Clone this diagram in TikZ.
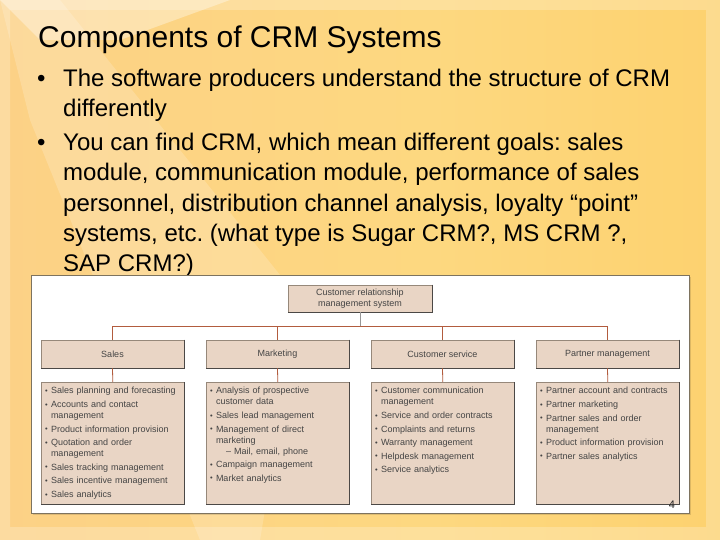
\documentclass[tikz,border=0pt]{standalone}
\usepackage{fontspec}
\setmainfont{Liberation Sans}
\frenchspacing
\usetikzlibrary{fadings}
\definecolor{boxfill}{RGB}{233,213,197}
\definecolor{boxedge}{RGB}{150,136,122}
\definecolor{boxdark}{RGB}{75,72,70}
\definecolor{linkred}{RGB}{178,92,62}
\definecolor{linkgray}{RGB}{150,150,150}
\definecolor{txtgray}{RGB}{68,68,68}
\definecolor{framec}{RGB}{125,115,95}
\definecolor{bgA}{RGB}{246,170,140}
\definecolor{bgB}{RGB}{250,192,130}
\definecolor{bgC}{RGB}{252,208,135}
\definecolor{bgD}{RGB}{253,216,128}
\definecolor{bgE}{RGB}{252,204,96}
\definecolor{bgF}{RGB}{255,226,122}
\pgfdeclarehorizontalshading{bgshade}{100bp}{color(0bp)=(bgA); color(5bp)=(bgB); color(20bp)=(bgC); color(55bp)=(bgD); color(93bp)=(bgE); color(96bp)=(bgF); color(100bp)=(bgF)}
\newcommand{\crmbul}{\makebox[5.8pt][l]{\raisebox{0.4pt}{\fontsize{7.5}{7.5}\selectfont •}}}
\newcommand{\crmitem}[1]{\par\vspace{2.6pt}\hangindent=5.8pt\hangafter=1\noindent\crmbul#1}
\newcommand{\crmfirst}[1]{\par\hangindent=5.8pt\hangafter=1\noindent\crmbul#1}
\newcommand{\crmsub}[1]{\par\noindent\hspace*{16pt}#1}
\tikzset{
  hdr/.style={rectangle, fill=boxfill, draw=boxedge, line width=0.6pt, minimum width=143pt, minimum height=28pt, inner sep=0pt, font=\fontsize{9}{11}\selectfont, text=txtgray, align=center},
  det/.style={rectangle, fill=boxfill, draw=boxedge, line width=0.6pt, anchor=north west, minimum width=143pt, minimum height=122pt, inner sep=0pt},
  dettext/.style={anchor=north west, inner sep=0pt, text width=137pt, align=left, font=\fontsize{9}{11}\selectfont, text=txtgray},
  link/.style={draw=linkred, line width=0.8pt},
  linkg/.style={draw=linkgray, line width=0.8pt},
  bigtxt/.style={anchor=base west, inner sep=0pt, font=\fontsize{24}{28}\selectfont, text=black},
  shadowedge/.style={draw=boxdark, line width=0.7pt},
}
\begin{document}
\begin{tikzpicture}[x=1pt,y=-1pt]
\useasboundingbox (0,0) rectangle (720,540);
% background
\shade[shading=bgshade] (0,0) rectangle (720,540);
\fill[white,opacity=0.18] (0,0) -- (60,0) -- (300,300) -- (260,540) -- (200,540) -- (30,120) -- cycle;
\fill[white,opacity=0.35] (0,0) -- (230,0) -- (120,40) -- (40,40) -- cycle;
\fill[white,opacity=0.22,even odd rule] (0,0) rectangle (720,540) (10,10) rectangle (706,527);
% title and text
\node[anchor=base west, inner sep=0pt, font=\fontsize{30}{34}\selectfont] (title) at (38,47.5) {Components of CRM Systems};
\node[bigtxt] (b1) at (37,87) {•};
\node[bigtxt] (t1) at (63,87) {The software producers understand the structure of CRM};
\node[bigtxt] (t2) at (63,116.5) {differently};
\node[bigtxt] (b2) at (37,150.5) {•};
\node[bigtxt] (t3) at (63,150.5) {You can find CRM, which mean different goals: sales};
\node[bigtxt] (t4) at (63,181) {module, communication module, performance of sales};
\node[bigtxt] (t5) at (63,211.5) {personnel, distribution channel analysis, loyalty “point”};
\node[bigtxt] (t6) at (63,241.5) {systems, etc. (what type is Sugar CRM?, MS CRM ?,};
\node[bigtxt] (t7) at (63,271) {SAP CRM?)};
% diagram frame
\fill[black,opacity=0.12] (33,277) rectangle (691,515);
\node[rectangle, draw=framec, fill=white, line width=0.8pt, anchor=north west, minimum width=658pt, minimum height=238pt, inner sep=0pt] (frame) at (31,275) {};
% top box
\node[hdr, minimum width=144pt, minimum height=27pt] (crm) at (360,298.5) {Customer relationship\\management system};
\draw[shadowedge] (crm.north east) -- (crm.south east) -- (crm.south west);
% headers
\node[hdr] (sales) at (112.5,354) {Sales};
\node[hdr] (mkt) at (277.5,354) {Marketing};
\node[hdr] (cs) at (442.5,354) {Customer service};
\node[hdr] (pm) at (607.5,354) {Partner management};
\foreach \n in {sales,mkt,cs,pm}{\draw[shadowedge] (\n.north east) -- (\n.south east) -- (\n.south west);}
% detail boxes
\node[det] (salesd) at (41,382) {};
\node[det] (mktd) at (206,382) {};
\node[det] (csd) at (371,382) {};
\node[det] (pmd) at (536,382) {};
\foreach \n in {salesd,mktd,csd,pmd}{\draw[shadowedge] (\n.north east) -- (\n.south east) -- (\n.south west);}
% connectors
\coordinate (jc) at (360,326.5);
\draw[linkg] (crm.south) -- (jc);
\draw[link] (sales.north) -- (sales.north |- jc) -- (pm.north |- jc) -- (pm.north);
\draw[link] (mkt.north) -- (mkt.north |- jc);
\draw[link] (cs.north) -- (cs.north |- jc);
\draw[link] (sales.south) -- (salesd.north);
\draw[link] (mkt.south) -- (mktd.north);
\draw[link] (cs.south) -- (csd.north);
\draw[link] (pm.south) -- (pmd.north);
% detail texts
\node[dettext] (salest) at ([xshift=4pt,yshift=-0.6pt]salesd.north west) {%
\crmfirst{Sales planning and forecasting}
\crmitem{Accounts and contact\newline management}
\crmitem{Product information provision}
\crmitem{Quotation and order\newline management}
\crmitem{Sales tracking management}
\crmitem{Sales incentive management}
\crmitem{Sales analytics}};
\node[dettext] (mktt) at ([xshift=4pt,yshift=-0.6pt]mktd.north west) {%
\crmfirst{Analysis of prospective\newline customer data}
\crmitem{Sales lead management}
\crmitem{Management of direct\newline marketing}
\crmsub{– Mail, email, phone}
\crmitem{Campaign management}
\crmitem{Market analytics}};
\node[dettext] (cst) at ([xshift=4pt,yshift=-0.6pt]csd.north west) {%
\crmfirst{Customer communication\newline management}
\crmitem{Service and order contracts}
\crmitem{Complaints and returns}
\crmitem{Warranty management}
\crmitem{Helpdesk management}
\crmitem{Service analytics}};
\node[dettext] (pmt) at ([xshift=4pt,yshift=-0.6pt]pmd.north west) {%
\crmfirst{Partner account and contracts}
\crmitem{Partner marketing}
\crmitem{Partner sales and order\newline management}
\crmitem{Product information provision}
\crmitem{Partner sales analytics}};
% page number
\node[anchor=base, inner sep=0pt, font=\fontsize{11}{12}\selectfont, text=black!85] (pnum) at (672,508) {4};
\end{tikzpicture}
\end{document}
